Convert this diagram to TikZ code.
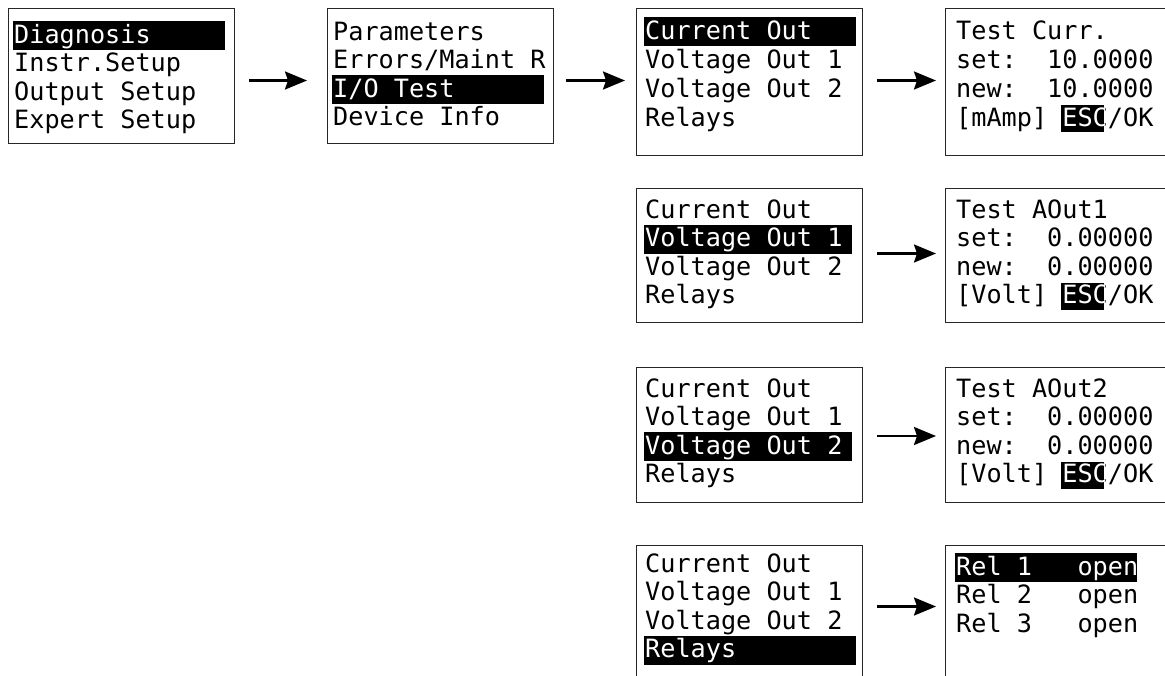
\documentclass[tikz,border=0pt]{standalone}
\usepackage{fontspec}
\newfontfamily\lcd{DejaVu Sans Mono}
\usetikzlibrary{arrows.meta}
\newcommand\cw{15.17}
\tikzset{
  screen/.style={draw=black!85, line width=1pt, anchor=north west, inner sep=0pt},
  txt/.style={anchor=base west, inner sep=0pt, font=\lcd\fontsize{25.2}{28.5}\selectfont},
  arr/.style={line width=2.3pt, -{Stealth[length=22pt,width=18pt,inset=3pt]}},
}
% name, x, baseline, text
\newcommand\scrline[4]{\node[txt] (#1) at (#2,#3) {#4};}
% name, x, baseline, text, width in chars
\newcommand\scrhl[5]{\fill (#2-1,#3-22) rectangle ++(#5*\cw,29);
  \node[txt,text=white] (#1) at (#2,#3) {#4};}
% escape highlight: name, x, baseline, text
\newcommand\scresc[4]{\node[txt] (#1) at (#2,#3) {#4};
  \begin{scope}
    \clip (#2+7*\cw-1,#3-21) rectangle ++(2.85*\cw,27);
    \fill (#2+7*\cw-1,#3-21) rectangle ++(2.85*\cw,27);
    \node[txt,text=white] (#1w) at (#2,#3) {#4};
  \end{scope}}
\begin{document}
\begin{tikzpicture}[x=1pt,y=-1pt]
\useasboundingbox (0,0) rectangle (1165,675);
\clip (0,0) rectangle (1165,675);
% boxes
\node[screen, minimum width=226pt, minimum height=135pt] (b1) at (8,8) {};
\node[screen, minimum width=226pt, minimum height=135pt] (b2) at (327,8) {};
\node[screen, minimum width=226pt, minimum height=147pt] (b3) at (636,8) {};
\node[screen, minimum width=240pt, minimum height=147pt] (b4) at (945,8) {};
\node[screen, minimum width=226pt, minimum height=134pt] (c3) at (636,188) {};
\node[screen, minimum width=240pt, minimum height=134pt] (c4) at (945,188) {};
\node[screen, minimum width=226pt, minimum height=135pt] (d3) at (636,367) {};
\node[screen, minimum width=240pt, minimum height=135pt] (d4) at (945,367) {};
\node[screen, minimum width=226pt, minimum height=140pt] (e3) at (636,545) {};
\node[screen, minimum width=240pt, minimum height=140pt] (e4) at (945,545) {};
% box 1
\scrhl{b1a}{14}{43}{Diagnosis}{14}
\scrline{b1b}{14}{71.5}{Instr.Setup}
\scrline{b1c}{14}{100}{Output Setup}
\scrline{b1d}{14}{128.5}{Expert Setup}
% box 2
\scrline{b2a}{333}{40}{Parameters}
\scrline{b2b}{333}{68.5}{Errors/Maint R}
\scrhl{b2c}{333}{97}{I/O Test}{14}
\scrline{b2d}{333}{125.5}{Device Info}
% box 3
\scrhl{b3a}{645}{39}{Current Out}{14}
\scrline{b3b}{645}{68}{Voltage Out 1}
\scrline{b3c}{645}{97}{Voltage Out 2}
\scrline{b3d}{645}{126}{Relays}
% box 4
\scrline{b4a}{956}{39}{Test Curr.}
\scrline{b4b}{956}{68}{set:~~10.0000}
\scrline{b4c}{956}{97}{new:~~10.0000}
\scresc{b4d}{956}{126}{[mAmp]~ESC/OK}
% row 2
\scrline{c3a}{645}{218}{Current Out}
\scrhl{c3b}{645}{246.5}{Voltage Out 1}{13.7}
\scrline{c3c}{645}{275}{Voltage Out 2}
\scrline{c3d}{645}{303.5}{Relays}
\scrline{c4a}{956}{218}{Test AOut1}
\scrline{c4b}{956}{246.5}{set:~~0.00000}
\scrline{c4c}{956}{275}{new:~~0.00000}
\scresc{c4d}{956}{303.5}{[Volt]~ESC/OK}
% row 3
\scrline{d3a}{645}{397}{Current Out}
\scrline{d3b}{645}{425.5}{Voltage Out 1}
\scrhl{d3c}{645}{454}{Voltage Out 2}{13.7}
\scrline{d3d}{645}{482.5}{Relays}
\scrline{d4a}{956}{397}{Test AOut2}
\scrline{d4b}{956}{425.5}{set:~~0.00000}
\scrline{d4c}{956}{454}{new:~~0.00000}
\scresc{d4d}{956}{482.5}{[Volt]~ESC/OK}
% row 4
\scrline{e3a}{645}{572}{Current Out}
\scrline{e3b}{645}{600.5}{Voltage Out 1}
\scrline{e3c}{645}{629}{Voltage Out 2}
\scrhl{e3d}{645}{657.5}{Relays}{14}
\scrhl{e4a}{956}{575}{Rel 1~~~open}{12}
\scrline{e4b}{956}{603.5}{Rel 2~~~open}
\scrline{e4c}{956}{632}{Rel 3~~~open}
% arrows
\draw[arr, shorten <=14pt, shorten >=20pt] ([yshift=-4.5pt]b1.east) -- ([yshift=-4.5pt]b2.west);
\draw[arr, shorten <=12pt, shorten >=11pt] ([yshift=-4.5pt]b2.east) -- ([yshift=-4.5pt]b2.east -| b3.west);
\draw[arr, shorten <=14pt, shorten >=9pt] ([yshift=1.5pt]b3.east) -- ([yshift=1.5pt]b4.west);
\draw[arr, shorten <=14pt, shorten >=9pt] ([yshift=2pt]c3.east) -- ([yshift=2pt]c4.west);
\draw[arr, shorten <=14pt, shorten >=9pt] ([yshift=-1pt]d3.east) -- ([yshift=-1pt]d4.west);
\draw[arr, shorten <=14pt, shorten >=9pt] ([yshift=9pt]e3.east) -- ([yshift=9pt]e4.west);
\end{tikzpicture}
\end{document}
